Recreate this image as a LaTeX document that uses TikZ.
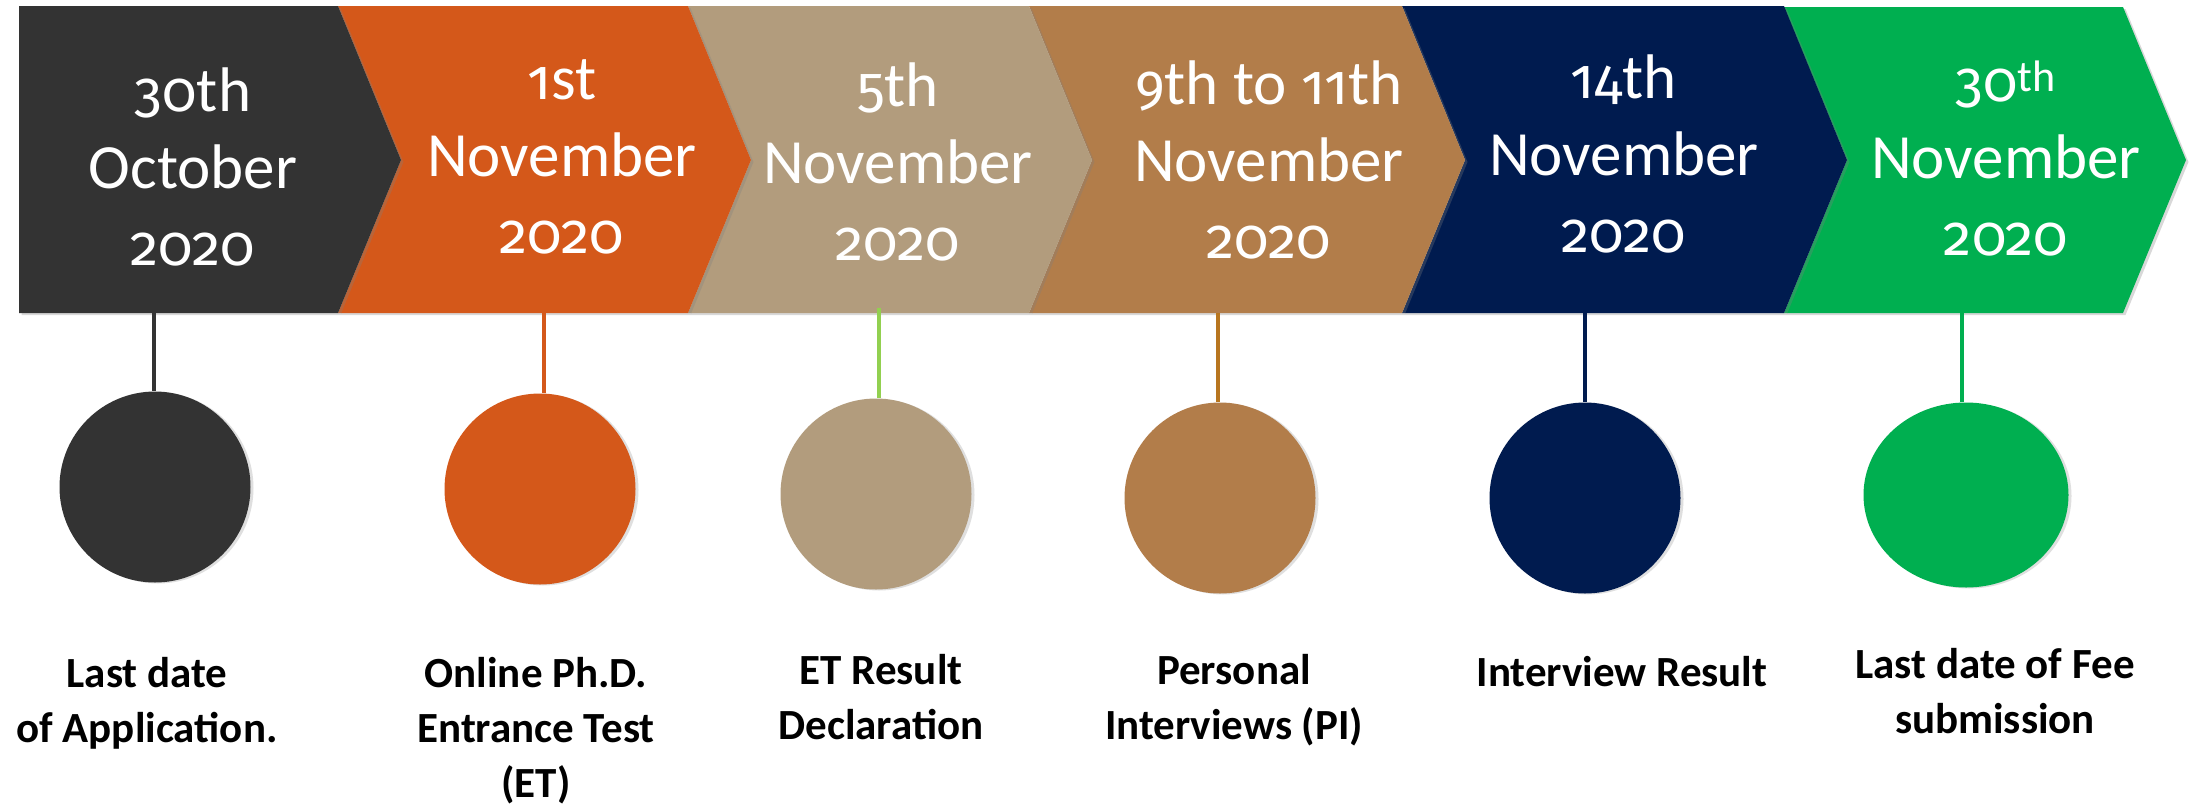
\documentclass[tikz,border=0pt]{standalone}
\usepackage{fontspec}
\setmainfont{Carlito}
\newfontfamily\osf{Fira Sans}[Numbers=OldStyle, Scale=0.9]
\usetikzlibrary{shadows,shapes.geometric}
\definecolor{cblack}{HTML}{333333}
\definecolor{corange}{HTML}{D4581A}
\definecolor{ctan}{HTML}{B29C7D}
\definecolor{cbrown}{HTML}{B27D4A}
\definecolor{cnavy}{HTML}{001B4F}
\definecolor{cgreen}{HTML}{00AF50}
\definecolor{ltan}{HTML}{92D050}
\definecolor{lbrown}{HTML}{B8761F}
\tikzset{
  chev/.style={fill=#1, drop shadow={shadow xshift=2.5pt, shadow yshift=-2pt, opacity=0.3}},
  datetext/.style={text=white, font=\fontsize{63}{77}\selectfont, align=center, anchor=base, inner sep=0pt},
  evlabel/.style={text=black, font=\bfseries\fontsize{43}{55}\selectfont, align=center, anchor=base, inner sep=0pt},
  dot/.style={circle, fill=#1, inner sep=0pt, minimum size=191pt, drop shadow={shadow xshift=3pt, shadow yshift=-1pt, opacity=0.25}},
  stem/.style={draw=#1, line width=4.5pt}
}
\begin{document}
\begin{tikzpicture}[x=1pt, y=-1pt]
\useasboundingbox (0,0) rectangle (2190,804);
\fill[white] (0,0) rectangle (2190,804);
% chevrons (right to left so shadows fall onto the next one)
\path[chev=cgreen] (1784,7) -- (2123,7) -- (2186,160) -- (2123,313) -- (1784,313) -- (1847,160) -- cycle;
\path[chev=cnavy] (1402,6) -- (1784,6) -- (1847,160) -- (1784,313) -- (1402,313) -- (1465,160) -- cycle;
\path[chev=cbrown] (1029,6) -- (1402,6) -- (1465,160) -- (1402,313) -- (1029,313) -- (1092,160) -- cycle;
\path[chev=ctan] (688,6) -- (1029,6) -- (1092,160) -- (1029,313) -- (688,313) -- (751,160) -- cycle;
\path[chev=corange] (338,6) -- (688,6) -- (751,160) -- (688,313) -- (338,313) -- (401,160) -- cycle;
\path[chev=cblack] (19,6) -- (338,6) -- (401,160) -- (338,313) -- (19,313) -- cycle;
% date texts (anchor = baseline of last line)
\node[datetext] (d1) at (193,265) {{\osf 30}th\\October\\{\osf 2020}};
\node[datetext] (d2) at (562,253) {{\osf 1}st\\November\\{\osf 2020}};
\node[datetext] (d3) at (898,260) {{\osf 5}th\\November\\{\osf 2020}};
\node[datetext] (d4) at (1269,258) {{\osf 9}th to {\osf 11}th\\November\\{\osf 2020}};
\node[datetext] (d5) at (1624,252) {{\osf 14}th\\November\\{\osf 2020}};
\node[datetext] (d6) at (2006,255) {{\osf 30}\textsuperscript{th}\\November\\{\osf 2020}};
% stem tops
\coordinate (b1) at (154,313);
\coordinate (b2) at (544,313);
\coordinate (b3) at (879,308);
\coordinate (b4) at (1218,313);
\coordinate (b5) at (1585,313);
\coordinate (b6) at (1962,313);
% circles
\node[dot=cblack] (c1) at (155,487) {};
\node[dot=corange] (c2) at (540,489) {};
\node[dot=ctan] (c3) at (876,494) {};
\node[dot=cbrown] (c4) at (1220,498) {};
\node[dot=cnavy] (c5) at (1585,498) {};
\node[ellipse, fill=cgreen, inner sep=0pt, minimum width=205pt, minimum height=185pt, drop shadow={shadow xshift=3pt, shadow yshift=-1pt, opacity=0.25}] (c6) at (1966,495) {};
% stems
\draw[stem=cblack] (b1) -- (b1 |- c1.north);
\draw[stem=corange] (b2) -- (b2 |- c2.north);
\draw[stem=ltan] (b3) -- (b3 |- c3.north);
\draw[stem=lbrown] (b4) -- (b4 |- c4.north);
\draw[stem=cnavy] (b5) -- (b5 |- c5.north);
\draw[stem=cgreen] (b6) -- (b6 |- c6.north);
% labels (anchor = baseline of last line)
\node[evlabel] (l1) at (147,742) {Last date\\of Application.};
\node[evlabel] (l2) at (536,797) {Online Ph.D.\\Entrance Test\\(ET)};
\node[evlabel] (l3) at (881,739) {ET Result\\Declaration};
\node[evlabel] (l4) at (1234,739) {Personal\\Interviews (PI)};
\node[evlabel] (l5) at (1622,686) {Interview Result};
\node[evlabel] (l6) at (1995,733) {Last date of Fee\\submission};
\end{tikzpicture}
\end{document}
